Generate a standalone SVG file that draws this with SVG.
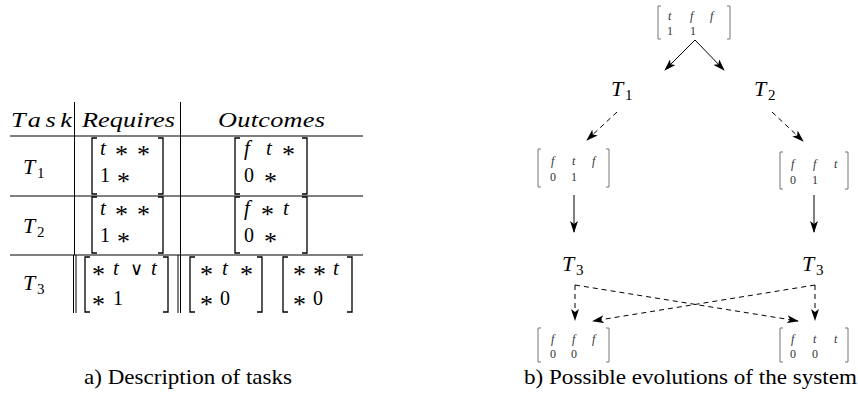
<svg xmlns="http://www.w3.org/2000/svg" width="858" height="396" viewBox="0 0 858 396">
<defs>
<style>
.m{font-family:"Liberation Serif","DejaVu Serif",serif;font-style:italic;font-size:21px;fill:#000}
.h{font-family:"Liberation Serif","DejaVu Serif",serif;font-style:italic;font-size:21px;fill:#000}
.r{font-family:"Liberation Serif","DejaVu Serif",serif;font-size:20px;fill:#000}
.s{font-family:"Liberation Serif","DejaVu Serif",serif;font-size:26px;fill:#000}
.v{font-family:"DejaVu Serif",serif;font-size:18px;fill:#000}
.T{font-family:"Liberation Serif",serif;font-style:italic;font-size:22px;fill:#000}
.sub{font-family:"Liberation Serif",serif;font-size:15px;fill:#000}
.cap{font-family:"Liberation Serif",serif;font-size:21px;fill:#000}
.sm{font-family:"Liberation Serif",serif;font-style:italic;font-size:12px;fill:#333}
.smr{font-family:"Liberation Serif",serif;font-size:12px;fill:#333}
.rule{stroke:#000;stroke-width:1;fill:none}
.br{stroke:#000;stroke-width:1.3;fill:none}
.bs{stroke:#666;stroke-width:0.9;fill:none}
.ar{stroke:#000;stroke-width:1;fill:none;marker-end:url(#ah)}
.da{stroke:#000;stroke-width:1;fill:none;stroke-dasharray:5 4;marker-end:url(#ah)}
</style>
<marker id="ah" viewBox="0 0 12 8" refX="11" refY="4" markerWidth="12" markerHeight="8" markerUnits="userSpaceOnUse" orient="auto">
<path d="M0,0 L12,4 L0,8 L3,4 z" fill="#000"/>
</marker>
</defs>

<g id="table">
<g id="rules">
<line class="rule" x1="10" y1="136" x2="363" y2="136"/>
<line class="rule" x1="10" y1="196" x2="363" y2="196"/>
<line class="rule" x1="10" y1="255" x2="363" y2="255"/>
<line class="rule" x1="74.5" y1="102" x2="74.5" y2="255"/>
<line class="rule" x1="73.5" y1="255" x2="73.5" y2="313"/>
<line class="rule" x1="76" y1="255" x2="76" y2="313"/>
<line class="rule" x1="180.5" y1="102" x2="180.5" y2="313"/>
<line class="rule" x1="178" y1="255" x2="178" y2="313"/>
</g>
<g id="header">
<text class="h" transform="translate(11,127) scale(1.25,1)" textLength="48.8" lengthAdjust="spacing">Task</text>
<text class="h" transform="translate(82,127) scale(1.25,1)" textLength="74.4" lengthAdjust="spacing">Requires</text>
<text class="h" transform="translate(218,127) scale(1.25,1)" textLength="85.6" lengthAdjust="spacing">Outcomes</text>
</g>
<g id="row-T1">
<text class="T" x="23" y="174">T</text><text class="sub" x="37" y="178">1</text>
<path class="br" d="M97,138 H92 V194 H97 M158,138 H163 V194 H158"/>
<text class="m" x="100" y="155">t</text><text class="s" x="115" y="163">*</text><text class="s" x="137" y="163">*</text>
<text class="r" x="100" y="182">1</text><text class="s" x="117" y="190">*</text>
<path class="br" d="M240,138 H235 V194 H240 M302,138 H307 V194 H302"/>
<text class="m" x="244" y="155">f</text><text class="m" x="266" y="155">t</text><text class="s" x="282" y="163">*</text>
<text class="r" x="244" y="182">0</text><text class="s" x="264" y="190">*</text>
</g>
<g id="row-T2">
<text class="T" x="23" y="233">T</text><text class="sub" x="37" y="237">2</text>
<path class="br" d="M97,197 H92 V253 H97 M158,197 H163 V253 H158"/>
<text class="m" x="100" y="215">t</text><text class="s" x="115" y="223">*</text><text class="s" x="137" y="223">*</text>
<text class="r" x="100" y="242">1</text><text class="s" x="117" y="250">*</text>
<path class="br" d="M240,197 H235 V253 H240 M302,197 H307 V253 H302"/>
<text class="m" x="244" y="215">f</text><text class="s" x="261" y="223">*</text><text class="m" x="283" y="215">t</text>
<text class="r" x="244" y="242">0</text><text class="s" x="264" y="250">*</text>
</g>
<g id="row-T3">
<text class="T" x="23" y="290">T</text><text class="sub" x="37" y="294">3</text>
<path class="br" d="M90,257 H85 V312 H90 M163,257 H168 V312 H163"/>
<text class="s" x="92" y="283">*</text><text class="m" x="113" y="275">t</text><text class="v" x="130" y="275">∨</text><text class="m" x="151" y="275">t</text>
<text class="s" x="92" y="313">*</text><text class="r" x="113" y="305">1</text>
<path class="br" d="M195,257 H190 V312 H195 M257,257 H262 V312 H257"/>
<text class="s" x="200" y="283">*</text><text class="m" x="222" y="275">t</text><text class="s" x="240" y="283">*</text>
<text class="s" x="200" y="313">*</text><text class="r" x="220" y="305">0</text>
<path class="br" d="M288,257 H283 V312 H288 M347,257 H352 V312 H347"/>
<text class="s" x="293" y="283">*</text><text class="s" x="313" y="283">*</text><text class="m" x="333" y="275">t</text>
<text class="s" x="293" y="313">*</text><text class="r" x="313" y="305">0</text>
</g>
</g>

<g id="states">
<g id="s0">
<path class="bs" d="M661,6 H658 V39 H661 M727,6 H730 V39 H727"/>
<text class="sm" x="668" y="20">t</text><text class="sm" x="690" y="20">f</text><text class="sm" x="710" y="20">f</text>
<text class="smr" x="667" y="35">1</text><text class="smr" x="690" y="35">1</text>
</g>
<g id="s1">
<path class="bs" d="M541,149 H538 V187 H541 M606,149 H609 V187 H606"/>
<text class="sm" x="551" y="165">f</text><text class="sm" x="572" y="165">t</text><text class="sm" x="592" y="165">f</text>
<text class="smr" x="550" y="181">0</text><text class="smr" x="571" y="181">1</text>
</g>
<g id="s2">
<path class="bs" d="M783,152 H780 V189 H783 M845,152 H848 V189 H845"/>
<text class="sm" x="791" y="168">f</text><text class="sm" x="813" y="168">f</text><text class="sm" x="834" y="168">t</text>
<text class="smr" x="790" y="184">0</text><text class="smr" x="812" y="184">1</text>
</g>
<g id="s3">
<path class="bs" d="M541,328 H538 V362 H541 M606,328 H609 V362 H606"/>
<text class="sm" x="551" y="343">f</text><text class="sm" x="572" y="343">f</text><text class="sm" x="592" y="343">f</text>
<text class="smr" x="550" y="358">0</text><text class="smr" x="571" y="358">0</text>
</g>
<g id="s4">
<path class="bs" d="M783,328 H780 V362 H783 M845,328 H848 V362 H845"/>
<text class="sm" x="791" y="343">f</text><text class="sm" x="813" y="343">t</text><text class="sm" x="834" y="343">t</text>
<text class="smr" x="790" y="358">0</text><text class="smr" x="812" y="358">0</text>
</g>
<g id="t1"><text class="T" x="611" y="96">T</text><text class="sub" x="625" y="100">1</text></g>
<g id="t2"><text class="T" x="754" y="96">T</text><text class="sub" x="768" y="100">2</text></g>
<g id="t3a"><text class="T" x="562" y="271">T</text><text class="sub" x="576" y="275">3</text></g>
<g id="t3b"><text class="T" x="802" y="271">T</text><text class="sub" x="816" y="275">3</text></g>
</g>

<g id="connectors">
<line class="ar" x1="695" y1="40" x2="665" y2="70"/>
<line class="ar" x1="695" y1="40" x2="724" y2="70"/>
<line class="da" x1="617" y1="112" x2="587" y2="140"/>
<line class="da" x1="772" y1="112" x2="803" y2="141"/>
<line class="ar" x1="574" y1="195" x2="574" y2="232"/>
<line class="ar" x1="814" y1="195" x2="814" y2="232"/>
<line class="da" x1="575" y1="285" x2="575" y2="320"/>
<line class="da" x1="575" y1="285" x2="798" y2="321"/>
<line class="da" x1="815" y1="285" x2="815" y2="320"/>
<line class="da" x1="815" y1="285" x2="593" y2="321"/>
</g>

<g id="captions">
<text class="cap" x="84" y="384" textLength="208" lengthAdjust="spacingAndGlyphs">a) Description of tasks</text>
<text class="cap" x="524" y="384" textLength="333" lengthAdjust="spacingAndGlyphs">b) Possible evolutions of the system</text>
</g>
</svg>
